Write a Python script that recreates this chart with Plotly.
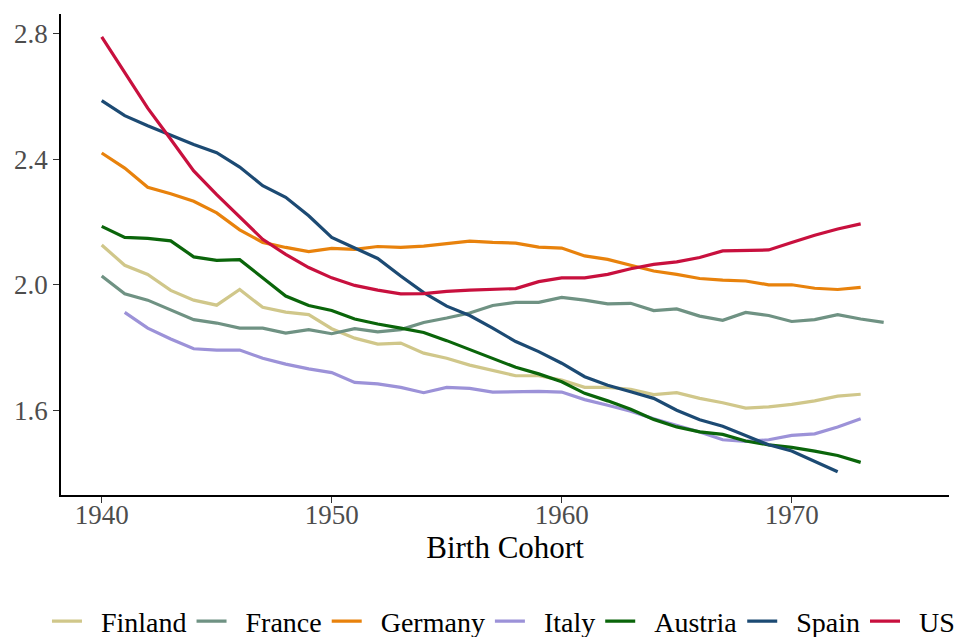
import plotly.graph_objects as go

# Completed fertility by birth cohort
years = list(range(1940, 1975))

finland = [2.127, 2.062, 2.033, 1.982, 1.951, 1.935, 1.985, 1.928, 1.913, 1.905,
           1.860, 1.830, 1.811, 1.814, 1.782, 1.766, 1.744, 1.728, 1.710, 1.710,
           1.696, 1.673, 1.673, 1.667, 1.650, 1.656, 1.638, 1.624, 1.607, 1.611,
           1.619, 1.630, 1.645, 1.651]
france = [2.028, 1.971, 1.951, 1.919, 1.889, 1.878, 1.862, 1.862, 1.846, 1.857,
          1.844, 1.860, 1.850, 1.857, 1.880, 1.894, 1.910, 1.934, 1.944, 1.944,
          1.960, 1.951, 1.939, 1.941, 1.918, 1.923, 1.900, 1.887, 1.912, 1.902,
          1.883, 1.889, 1.905, 1.891, 1.880]
germany = [2.420, 2.372, 2.311, 2.290, 2.266, 2.229, 2.175, 2.135, 2.119, 2.106,
           2.116, 2.113, 2.122, 2.119, 2.123, 2.132, 2.139, 2.135, 2.133, 2.120,
           2.117, 2.092, 2.081, 2.062, 2.044, 2.033, 2.020, 2.015, 2.012, 2.000,
           2.000, 1.989, 1.985, 1.992]
italy = [1.912, 1.862, 1.827, 1.796, 1.792, 1.792, 1.766, 1.747, 1.732,
         1.720, 1.689, 1.684, 1.673, 1.656, 1.673, 1.670, 1.658, 1.660, 1.660,
         1.658, 1.634, 1.616, 1.597, 1.573, 1.552, 1.531, 1.506, 1.501, 1.506,
         1.520, 1.525, 1.547, 1.573]
austria = [2.186, 2.151, 2.148, 2.140, 2.089, 2.078, 2.080, 2.022, 1.964, 1.934,
           1.918, 1.891, 1.875, 1.862, 1.848, 1.822, 1.793, 1.766, 1.737, 1.716,
           1.691, 1.654, 1.630, 1.603, 1.571, 1.547, 1.531, 1.523, 1.502, 1.490,
           1.482, 1.470, 1.456, 1.434]
spain = [2.587, 2.539, 2.507, 2.477, 2.447, 2.421, 2.375, 2.316, 2.279, 2.220,
         2.151, 2.117, 2.084, 2.028, 1.975, 1.932, 1.902, 1.862, 1.819, 1.787,
         1.750, 1.707, 1.680, 1.659, 1.638, 1.600, 1.570, 1.549, 1.520, 1.490,
         1.470, 1.437, 1.404]
us = [2.790, 2.676, 2.563, 2.464, 2.363, 2.287, 2.215, 2.145, 2.097, 2.055,
      2.022, 1.998, 1.983, 1.971, 1.972, 1.979, 1.983, 1.985, 1.988, 2.010,
      2.022, 2.022, 2.033, 2.051, 2.065, 2.073, 2.087, 2.108, 2.110, 2.111,
      2.135, 2.158, 2.178, 2.194]

series = [
    ("Finland", years[:len(finland)], finland, "#D0C78A"),
    ("France", years[:len(france)], france, "#6F9283"),
    ("Germany", years[:len(germany)], germany, "#E8820C"),
    ("Italy", years[1:1 + len(italy)], italy, "#9C92D8"),
    ("Austria", years[:len(austria)], austria, "#0A650A"),
    ("Spain", years[:len(spain)], spain, "#1C4A73"),
    ("US", years[:len(us)], us, "#C8103E"),
]

x_ticks = [1940, 1950, 1960, 1970]
y_ticks = [1.6, 2.0, 2.4, 2.8]

SERIF = "Liberation Serif, Times New Roman, serif"

fig = go.Figure()
for name, xs, ys, color in series:
    fig.add_trace(go.Scatter(
        x=xs, y=ys, mode="lines", name="\u00a0\u00a0" + name,
        line=dict(color=color, width=3.2),
    ))

fig.update_layout(
    width=963, height=637,
    margin=dict(l=61, r=14, t=14, b=142, autoexpand=False),
    plot_bgcolor="white", paper_bgcolor="white",
    font=dict(family=SERIF, size=27, color="black"),
    showlegend=True,
    legend=dict(
        orientation="h", x=-0.0158, xanchor="left", y=-0.263, yanchor="middle",
        font=dict(family=SERIF, size=28, color="black"),
        itemwidth=30, tracegroupgap=0,
    ),
    xaxis=dict(
        range=[1938.23, 1976.84], tickvals=x_ticks, ticks="outside", ticklen=6,
        tickwidth=1, tickcolor="#333333", showgrid=False, zeroline=False,
        showline=True, linecolor="black", linewidth=1.5,
        ticklabelstandoff=-11,
        tickfont=dict(family=SERIF, size=27, color="#4D4D4D"),
        title=dict(text="Birth Cohort", font=dict(family=SERIF, size=31, color="black"),
                   standoff=1),
    ),
    yaxis=dict(
        range=[1.330, 2.863], tickvals=y_ticks, tickformat=".1f", ticks="outside",
        ticklen=6, tickwidth=1, tickcolor="#333333", showgrid=False, zeroline=False,
        showline=True, linecolor="black", linewidth=1.5,
        tickfont=dict(family=SERIF, size=27, color="#4D4D4D"),
    ),
)

fig.write_html("out.html")
